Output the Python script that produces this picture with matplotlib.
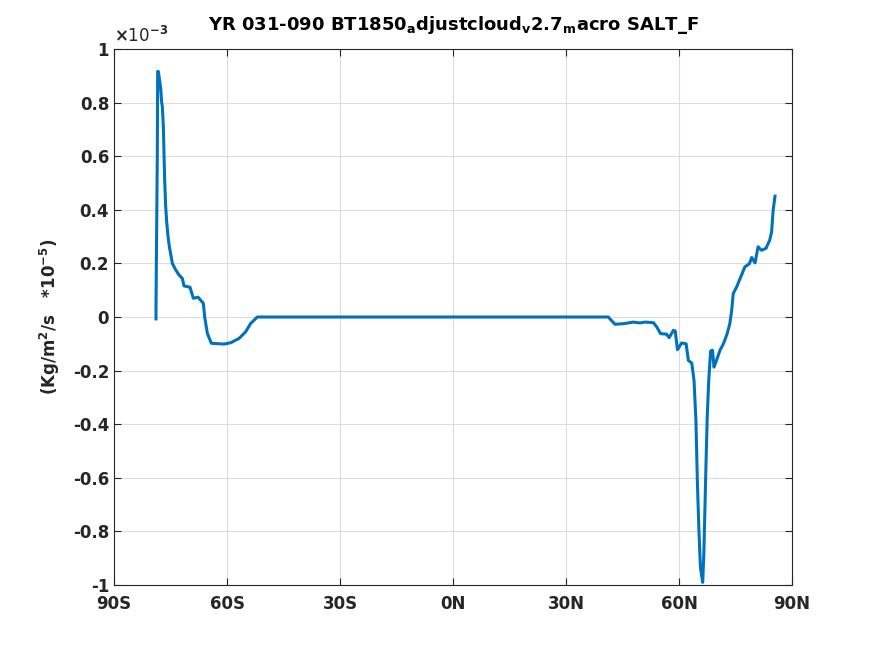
import numpy as np
import matplotlib
matplotlib.use("Agg")
import matplotlib.pyplot as plt

# latitude (deg) and flux (units of 1e-3)
lat_south = [-78.85, -78.85, -78.67, -78.50, -78.41, -78.23, -77.61, -77.35, -77.17,
             -76.90, -76.73, -76.55, -76.28, -76.02, -75.66, -75.31, -74.51, -73.63,
             -72.74, -71.86, -71.42, -69.82, -68.94, -67.70, -66.28, -65.93, -65.22,
             -64.16, -60.80, -59.03, -56.81, -55.04, -53.72, -51.95]
val_south = [-0.007, 0.045, 0.336, 0.62, 0.916, 0.916, 0.854, 0.80, 0.786,
             0.711, 0.611, 0.512, 0.412, 0.356, 0.300, 0.263, 0.200, 0.176,
             0.157, 0.144, 0.116, 0.111, 0.070, 0.074, 0.051, 0.001, -0.061,
             -0.098, -0.101, -0.096, -0.080, -0.055, -0.024, 0.0]

lat_mid = [-40.0, 0.0, 36.36]
val_mid = [0.0, 0.0, 0.0]

lat_north = [41.23, 43.0, 45.2, 47.9, 49.6, 51.0, 53.2, 54.1, 55.1, 56.7, 57.4, 58.5,
             59.0, 59.6, 60.7, 61.9, 62.5, 63.4, 64.0, 64.5, 64.9, 65.3, 65.7, 66.3,
             66.6, 66.9, 67.2, 67.5, 67.9, 68.4, 68.9, 69.3, 69.8, 70.9, 71.8, 72.8,
             73.5, 74.0, 74.4, 75.3, 76.6, 77.5, 78.7, 79.3, 80.2, 81.0, 81.9, 83.1,
             84.1, 84.6, 85.0, 85.5]
val_north = [0.0, -0.027, -0.025, -0.019, -0.022, -0.019, -0.021, -0.037, -0.062, -0.064,
             -0.077, -0.050, -0.052, -0.122, -0.097, -0.100, -0.162, -0.172, -0.237,
             -0.386, -0.622, -0.797, -0.934, -0.990, -0.884, -0.710, -0.535, -0.373,
             -0.237, -0.127, -0.124, -0.187, -0.168, -0.124, -0.100, -0.062, -0.025,
             0.025, 0.087, 0.112, 0.156, 0.187, 0.199, 0.222, 0.202, 0.262, 0.249,
             0.256, 0.287, 0.318, 0.398, 0.451]

xticks = [-90, -60, -30, 0, 30, 60, 90]
xticklabels = ['90S', '60S', '30S', '0N', '30N', '60N', '90N']
yticks = [-1, -0.8, -0.6, -0.4, -0.2, 0, 0.2, 0.4, 0.6, 0.8, 1]

lat = np.array(lat_south + lat_mid + lat_north)
val = np.array(val_south + val_mid + val_north)

plt.rcParams['font.family'] = ['DejaVu Sans']
plt.rcParams['font.weight'] = 'bold'
plt.rcParams['mathtext.default'] = 'bf'

fig = plt.figure(figsize=(8.75, 6.56), dpi=100)
ax = fig.add_axes([0.1303, 0.1082, 0.7748, 0.8171])

ax.plot(lat, val, color='#0072BD', linewidth=2.2)

ax.set_xlim(-90, 90)
ax.set_ylim(-1, 1)
ax.set_xticks(xticks)
ax.set_xticklabels(xticklabels)
ax.set_yticks(yticks)
ax.set_yticklabels(['%g' % t for t in yticks])
ax.grid(True, color='#dcdcdc', linewidth=0.8)
ax.set_axisbelow(True)
ax.tick_params(direction='in', top=True, right=True, length=5, width=0.8,
               labelsize=12, colors='#262626')
ax.tick_params(axis='x', pad=7)
for s in ax.spines.values():
    s.set_color('#262626')
    s.set_linewidth(0.8)

ax.text(0.0, 1.006, r'$\times$10$^{-3}$', transform=ax.transAxes, fontsize=12,
        color='#262626', ha='left', va='bottom', fontweight='normal')

ax.set_title(r'YR 031-090 BT1850$_{a}$djustcloud$_{v}$2.7$_{m}$acro SALT_F',
             fontsize=13, fontweight='bold', pad=14)
ax.set_ylabel(r'(Kg/m$^{2}$/s   *10$^{-5}$)', fontsize=12, fontweight='bold',
              color='#262626', labelpad=8)

fig.savefig('out.png', dpi=100)
